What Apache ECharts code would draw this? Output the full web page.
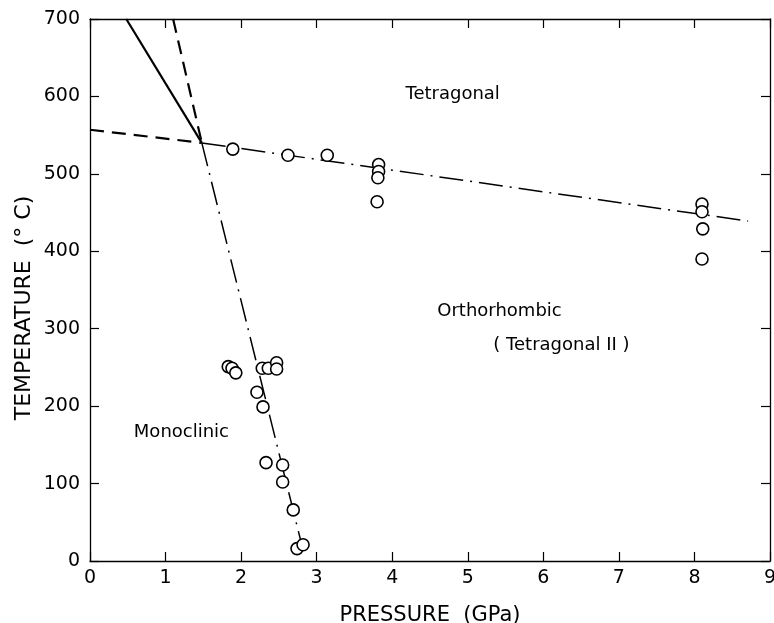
<!DOCTYPE html>
<html>
<head>
<meta charset="utf-8">
<script src="https://cdn.jsdelivr.net/npm/echarts@6/dist/echarts.min.js"></script>
<style>
  html, body { margin: 0; padding: 0; background: #fff; }
  #chart { width: 774px; height: 623px; }
</style>
</head>
<body>
<div id="chart"></div>
<script>
// pressure (GPa), temperature (C)
const xTicks = [0, 1, 2, 3, 4, 5, 6, 7, 8, 9]
const yTicks = [0, 100, 200, 300, 400, 500, 600, 700]

// measured transitions, upper boundary
const upperPoints = [
  [1.89, 532], [2.62, 524], [3.14, 524],
  [3.82, 512], [3.82, 503], [3.81, 495], [3.80, 464],
  [8.10, 461], [8.10, 451], [8.11, 429], [8.10, 390]
]
// measured transitions, monoclinic boundary
const lowerPoints = [
  [1.83, 251], [1.88, 249], [1.93, 243],
  [2.28, 249], [2.36, 249], [2.47, 256], [2.47, 248],
  [2.21, 218], [2.29, 199], [2.33, 127], [2.55, 124],
  [2.55, 102], [2.69, 66], [2.74, 16], [2.82, 21]
]

// phase boundaries
const tetOrthoLine = [[1.48, 540], [8.71, 439]]
const monoOrthoLine = [[1.48, 540], [2.80, 22]]
const monoTetLine = [[0.48, 700], [1.48, 540]]
const steepDashed = [[1.10, 700], [1.48, 540]]
const flatDashed = [[0, 557], [1.48, 540]]

// region names [P, T, text]
const regionLabels = [
  [4.80, 603, 'Tetragonal'],
  [5.42, 323, 'Orthorhombic'],
  [6.24, 279, '( Tetragonal II )'],
  [1.21, 166, 'Monoclinic']
]

const FONT = 'DejaVu Sans'
const chart = echarts.init(document.getElementById('chart'))

function axis(extra) {
  return Object.assign({
    type: 'value',
    axisLine: { show: true, onZero: false, lineStyle: { color: '#000', width: 1.3 } },
    axisTick: { show: true, inside: true, length: 9, lineStyle: { color: '#000', width: 1.2 } },
    splitLine: { show: false }
  }, extra)
}

function line(data, type, width) {
  return {
    type: 'line',
    data: data,
    symbol: 'none',
    silent: true,
    xAxisIndex: 0,
    yAxisIndex: 0,
    lineStyle: { color: '#000', width: width, type: type },
    z: 2
  }
}

function circles(data) {
  return {
    type: 'scatter',
    data: data,
    symbol: 'circle',
    symbolSize: 12,
    xAxisIndex: 0,
    yAxisIndex: 0,
    itemStyle: { color: '#fff', borderColor: '#000', borderWidth: 1.6, opacity: 1 },
    z: 3
  }
}

chart.setOption({
  animation: false,
  backgroundColor: '#fff',
  grid: { left: 90, right: 4, top: 19, bottom: 62, outerBoundsMode: 'none', containLabel: false },
  xAxis: [
    axis({
      min: xTicks[0], max: xTicks[xTicks.length - 1], interval: 1,
      position: 'bottom',
      axisLabel: { color: '#000', fontSize: 19, fontFamily: FONT, margin: 8 },
      name: 'PRESSURE  (GPa)',
      nameLocation: 'middle',
      nameGap: 44,
      nameTextStyle: { color: '#000', fontSize: 21, fontFamily: FONT }
    }),
    axis({
      min: xTicks[0], max: xTicks[xTicks.length - 1], interval: 1,
      position: 'top',
      axisLabel: { show: false }
    })
  ],
  yAxis: [
    axis({
      min: yTicks[0], max: yTicks[yTicks.length - 1], interval: 100,
      position: 'left',
      axisLabel: { color: '#000', fontSize: 19, fontFamily: FONT, margin: 10 }
    }),
    axis({
      min: yTicks[0], max: yTicks[yTicks.length - 1], interval: 100,
      position: 'right',
      axisLabel: { show: false }
    })
  ],
  graphic: [{
    type: 'text',
    x: 24,
    y: 308,
    rotation: Math.PI / 2,
    style: {
      text: 'TEMPERATURE  (° C)',
      fill: '#000',
      font: '22px "' + FONT + '"',
      align: 'center',
      verticalAlign: 'middle'
    }
  }],
  series: [
    line(tetOrthoLine, [24, 7, 2, 7], 1.5),
    line(monoOrthoLine, [24, 7, 2, 7], 1.5),
    line(monoTetLine, 'solid', 2.2),
    line(steepDashed, [14, 8], 2.2),
    line(flatDashed, [14, 8], 2.2),
    circles(upperPoints),
    circles(lowerPoints),
    {
      type: 'scatter',
      data: regionLabels,
      symbolSize: 1,
      silent: true,
      xAxisIndex: 0,
      yAxisIndex: 0,
      itemStyle: { color: '#fff', opacity: 1 },
      label: {
        show: true,
        position: 'inside',
        formatter: p => p.data[2],
        color: '#000',
        fontSize: 18,
        fontFamily: FONT
      },
      z: 4
    }
  ]
})
</script>
</body>
</html>
